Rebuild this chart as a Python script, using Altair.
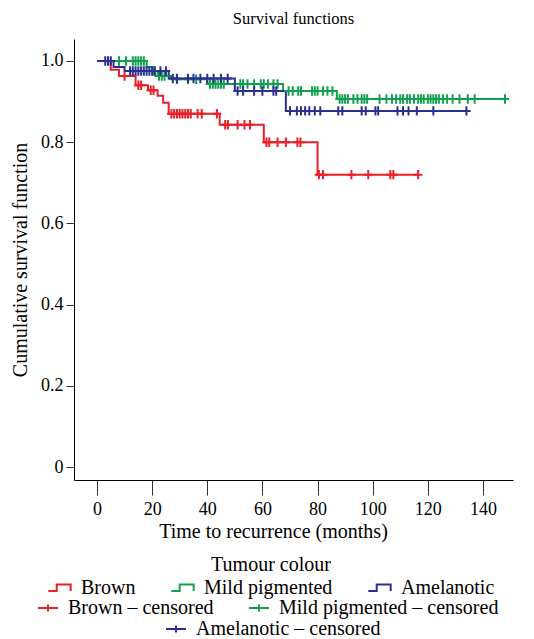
import altair as alt
import pandas as pd

FONT = "Liberation Serif"

series_names = ["Brown", "Mild pigmented", "Amelanotic"]
series_colors = ["#e8202a", "#10a050", "#2b3090"]
cens_names = ["Brown – censored", "Mild pigmented – censored", "Amelanotic – censored"]

# Kaplan-Meier steps (time in months, survival)
brown_step_t = [0, 5, 8, 14, 18.5, 22, 24, 26, 44.5, 60.5, 80]
brown_step_s = [1.0, 0.978, 0.963, 0.94, 0.928, 0.914, 0.897, 0.87, 0.843, 0.80, 0.72]
brown_end = 116.5

green_step_t = [0, 18, 20, 22, 27, 40, 67.5, 87]
green_step_s = [1.0, 0.985, 0.975, 0.963, 0.955, 0.943, 0.926, 0.906]
green_end = 148

blue_step_t = [0, 6, 10, 26, 50, 68.5]
blue_step_s = [1.0, 0.985, 0.975, 0.957, 0.926, 0.877]
blue_end = 134

# censored observations (time in months)
brown_cens_t = [10, 15, 16, 19.5, 20.5, 27, 28, 29, 30, 31, 32, 33, 34, 36.5, 38, 43.5,
                46.5, 47.5, 51, 53.5, 55.5, 61.5, 62.5, 65.5, 68.5, 72.7, 73.8,
                80.5, 82, 92.3, 98.4, 106.4, 107.5, 116.5]
green_cens_t = [8, 10.5, 13, 14, 15, 16, 17, 20.5, 22.5, 23.5, 24.5, 29, 33, 36,
                41, 42, 43, 44, 45, 46, 52, 53, 54.6, 57, 59.4, 60.5, 62, 64, 65.5,
                69.5, 71, 73, 74, 78, 79, 80, 82, 83.6, 85.4,
                88, 89, 90, 91, 93, 94.5, 96, 97, 98, 102.5, 105, 107, 108.5, 110, 111,
                112.5, 113.5, 115, 116.5, 117.5, 118.5, 120, 121, 122, 123, 124, 125.5,
                127, 129, 131.5, 134.5, 137, 148]
blue_cens_t = [3, 4, 5, 12, 13, 14, 15, 16, 17, 18, 19, 20, 21, 23, 25,
               27.5, 29, 33, 35, 37.5, 40, 42.3, 45, 47.4,
               51, 53, 57, 60, 64, 65,
               70, 72.5, 74, 75.5, 77, 79, 81, 87.5, 89, 96, 97.5, 101, 102, 109, 111,
               113, 116, 122, 134]

x_ticks = [0, 20, 40, 60, 80, 100, 120, 140]
y_ticks = [0, 0.2, 0.4, 0.6, 0.8, 1.0]


def level_at(t, step_t, step_s):
    s = step_s[0]
    for tt, ss in zip(step_t, step_s):
        if tt <= t:
            s = ss
    return s


steps = [
    (series_names[0], brown_step_t, brown_step_s, brown_end, brown_cens_t, cens_names[0]),
    (series_names[1], green_step_t, green_step_s, green_end, green_cens_t, cens_names[1]),
    (series_names[2], blue_step_t, blue_step_s, blue_end, blue_cens_t, cens_names[2]),
]

line_rows, cens_rows = [], []
for name, st, ss, end, ct, cname in steps:
    for i, (t, s) in enumerate(zip(st, ss)):
        line_rows.append({"series": name, "t": t, "s": s, "o": i})
    line_rows.append({"series": name, "t": end, "s": ss[-1], "o": len(st)})
    for t in ct:
        cens_rows.append({"label": cname, "t": t, "s": level_at(t, st, ss)})

line_df = pd.DataFrame(line_rows)
cens_df = pd.DataFrame(cens_rows)

PLUS = "M-0.9,0L0.9,0M0,-1L0,1"
STEP_GLYPH = "M-1,0.3L-0.25,0.3L-0.25,-0.3L1,-0.3L1,0.3"
LEG_PLUS = "M-1,0L1,0M0,-0.35L0,0.35"

x_enc = alt.X("t:Q", scale=alt.Scale(domain=[-8.34, 150.9], nice=False, zero=False),
              axis=alt.Axis(values=x_ticks, title="Time to recurrence (months)", titleX=199))
y_enc = alt.Y("s:Q", scale=alt.Scale(domain=[-0.032, 1.054], nice=False, zero=False),
              axis=alt.Axis(values=y_ticks, title="Cumulative survival function",
                            labelExpr="datum.value == 0 ? '0' : format(datum.value, '.1f')"))

leg_common = dict(orient="none", direction="horizontal", labelFont=FONT, labelFontSize=20,
                  labelColor="black", symbolStrokeWidth=2, columnPadding=31, labelOffset=9,
                  labelLimit=0, titleFont=FONT, titleFontSize=20, titleFontWeight="normal",
                  titleColor="black")

lines = alt.Chart(line_df).mark_line(interpolate="step-after").encode(
    x=x_enc, y=y_enc,
    order="o:Q",
    color=alt.Color("series:N", scale=alt.Scale(domain=series_names, range=series_colors),
                    legend=alt.Legend(title="Tumour colour", symbolType=STEP_GLYPH, symbolSize=500,
                                      titleAnchor="middle", titlePadding=0,
                                      legendX=-27, legendY=516, **leg_common)),
    strokeWidth=alt.StrokeWidth("series:N", scale=alt.Scale(domain=series_names, range=[2, 2, 1.3]),
                                legend=None),
)

cens_a = alt.Chart(cens_df).transform_filter(
    alt.FieldOneOfPredicate(field="label", oneOf=cens_names[:2])
).mark_point(shape=PLUS, filled=False, strokeWidth=2, size=90, opacity=1).encode(
    x=x_enc, y=y_enc,
    color=alt.Color("label:N", scale=alt.Scale(domain=cens_names[:2], range=series_colors[:2]),
                    legend=alt.Legend(title=None, symbolType=LEG_PLUS, symbolSize=400,
                                      legendX=-37, legendY=558, **leg_common)),
)

cens_b = alt.Chart(cens_df).transform_filter(
    alt.FieldEqualPredicate(field="label", equal=cens_names[2])
).mark_point(shape=PLUS, filled=False, strokeWidth=2, size=90, opacity=1).encode(
    x=x_enc, y=y_enc,
    color=alt.Color("label:N", scale=alt.Scale(domain=cens_names[2:], range=series_colors[2:]),
                    legend=alt.Legend(title=None, symbolType=LEG_PLUS, symbolSize=400,
                                      legendX=91, legendY=579, **leg_common)),
)

chart = alt.layer(lines, cens_a, cens_b).resolve_scale(color="independent").properties(
    width=439, height=441,
    title=alt.Title("Survival functions", font=FONT, fontSize=16.5, fontWeight="normal",
                    color="black", offset=12),
    padding={"left": 2, "top": 2, "right": 5, "bottom": 2},
).configure(background="white").configure_view(stroke=None).configure_axis(
    grid=False, domainColor="black", tickColor="#333333", labelFont=FONT, labelFontSize=18,
    labelColor="black", titleFont=FONT, titleFontSize=20, titleFontWeight="normal",
    titleColor="black",
).configure_axisX(tickSize=15, labelPadding=5, titlePadding=3).configure_axisY(
    tickSize=8, labelPadding=3, titlePadding=10
)

chart.save("out.html", embed_options={"renderer": "svg", "actions": False})
